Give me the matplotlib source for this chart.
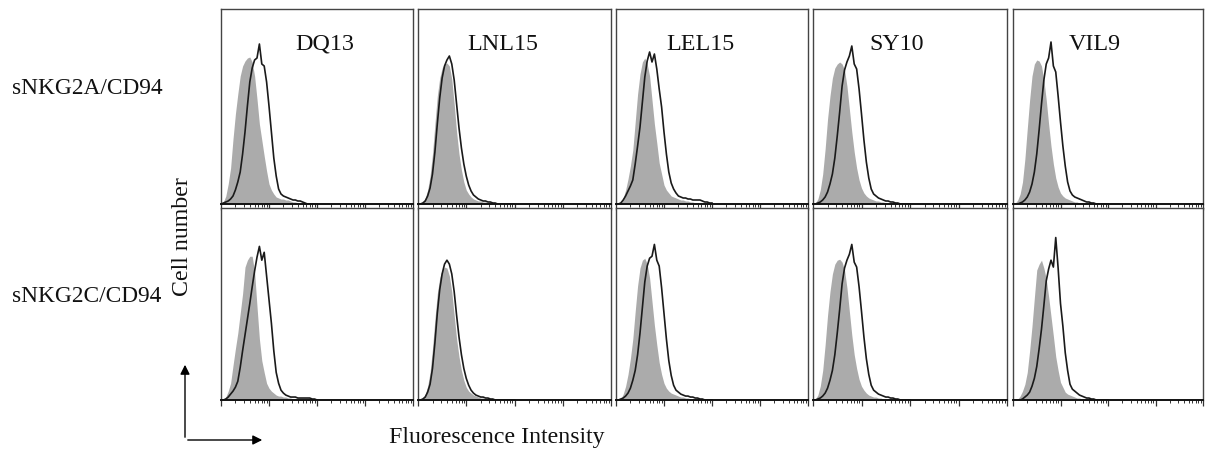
import numpy as np
import matplotlib
matplotlib.use("Agg")
import matplotlib.pyplot as plt
from matplotlib.ticker import LogLocator, NullFormatter, NullLocator

plt.rcParams['font.family'] = ['Liberation Serif', 'DejaVu Serif']

# peptides (columns) and receptors (rows)
peptides = ["DQ13", "LNL15", "LEL15", "SY10", "VIL9"]
receptors = ["sNKG2A/CD94", "sNKG2C/CD94"]

# histogram channels: log10 fluorescence from 0 to 2 in steps of 0.05
log_channels = np.arange(0, 2.001, 0.05)

# cell counts per channel (gray = control, line = tetramer)
gray_counts = {
    ("sNKG2A/CD94", "DQ13"): [0, 2, 8, 20, 36, 65, 90, 110, 128, 138, 143, 146, 147, 142, 128, 105, 80, 64, 48, 33, 20,
                              14, 10, 7, 6, 5, 5, 4, 4, 3, 2, 2, 1, 1, 0, 0, 0, 0, 0, 0, 0],
    ("sNKG2A/CD94", "LNL15"): [0, 0, 2, 6, 14, 28, 50, 80, 108, 126, 136, 140, 141, 138, 125, 100, 72, 50, 34, 22, 14,
                               10, 7, 5, 4, 3, 3, 2, 2, 1, 1, 0, 0, 0, 0, 0, 0, 0, 0, 0, 0],
    ("sNKG2A/CD94", "LEL15"): [0, 0, 1, 6, 14, 25, 38, 54, 82, 110, 130, 142, 146, 140, 128, 104, 80, 61, 41, 30, 19,
                               14, 11, 8, 7, 6, 5, 4, 4, 3, 3, 2, 2, 1, 1, 0, 0, 0, 0, 0, 0],
    ("sNKG2A/CD94", "SY10"): [0, 1, 5, 14, 30, 55, 85, 108, 126, 136, 140, 142, 140, 134, 118, 95, 72, 52, 36, 24, 16,
                              11, 8, 6, 5, 4, 3, 3, 2, 2, 1, 1, 0, 0, 0, 0, 0, 0, 0, 0, 0],
    ("sNKG2A/CD94", "VIL9"): [0, 1, 4, 10, 22, 45, 75, 104, 128, 140, 144, 143, 138, 124, 104, 80, 58, 40, 26, 17, 11,
                              8, 6, 5, 4, 3, 2, 2, 1, 1, 0, 0, 0, 0, 0, 0, 0, 0, 0, 0, 0],
    ("sNKG2C/CD94", "DQ13"): [0, 1, 3, 9, 17, 35, 52, 68, 88, 108, 135, 142, 146, 146, 130, 95, 62, 40, 28, 17, 12,
                              9, 7, 5, 4, 4, 3, 3, 2, 2, 1, 1, 0, 0, 0, 0, 0, 0, 0, 0, 0],
    ("sNKG2C/CD94", "LNL15"): [0, 0, 2, 6, 14, 28, 52, 82, 108, 124, 132, 135, 134, 126, 110, 86, 62, 44, 30, 20, 13,
                               9, 7, 5, 4, 3, 2, 2, 1, 1, 0, 0, 0, 0, 0, 0, 0, 0, 0, 0, 0],
    ("sNKG2C/CD94", "LEL15"): [0, 0, 1, 6, 14, 26, 42, 62, 90, 116, 134, 142, 144, 138, 124, 100, 76, 56, 38, 26, 17,
                               12, 9, 7, 6, 5, 4, 3, 3, 2, 2, 1, 1, 0, 0, 0, 0, 0, 0, 0, 0],
    ("sNKG2C/CD94", "SY10"): [0, 1, 5, 14, 30, 56, 86, 110, 128, 138, 142, 143, 140, 132, 114, 90, 66, 46, 32, 21, 14,
                              10, 7, 5, 4, 3, 3, 2, 2, 1, 1, 0, 0, 0, 0, 0, 0, 0, 0, 0, 0],
    ("sNKG2C/CD94", "VIL9"): [0, 0, 1, 4, 9, 16, 28, 50, 75, 104, 132, 138, 142, 134, 123, 105, 85, 65, 44, 30, 18,
                              13, 8, 6, 5, 4, 3, 2, 2, 1, 1, 0, 0, 0, 0, 0, 0, 0, 0, 0, 0],
}

line_counts = {
    ("sNKG2A/CD94", "DQ13"): [0, 1, 2, 3, 5, 8, 14, 22, 32, 50, 72, 98, 122, 136, 144, 146, 160, 140, 138, 122, 98,
                              72, 46, 28, 15, 10, 8, 7, 6, 5, 4, 4, 3, 3, 2, 1, 0, 0, 0, 0, 0],
    ("sNKG2A/CD94", "LNL15"): [0, 0, 1, 3, 8, 16, 30, 52, 80, 106, 126, 138, 144, 148, 140, 124, 100, 76, 56, 40, 28,
                               19, 13, 9, 7, 5, 4, 3, 3, 2, 2, 1, 1, 0, 0, 0, 0, 0, 0, 0, 0],
    ("sNKG2A/CD94", "LEL15"): [0, 0, 1, 4, 8, 13, 18, 24, 40, 58, 77, 102, 127, 143, 152, 142, 150, 135, 115, 97, 72,
                               50, 32, 21, 15, 11, 8, 7, 6, 6, 5, 5, 4, 4, 4, 4, 3, 2, 2, 1, 1],
    ("sNKG2A/CD94", "SY10"): [0, 0, 1, 2, 4, 7, 12, 20, 30, 46, 68, 92, 118, 134, 142, 148, 158, 140, 135, 115, 90,
                              64, 42, 26, 15, 10, 8, 6, 5, 4, 3, 3, 2, 2, 1, 1, 0, 0, 0, 0, 0],
    ("sNKG2A/CD94", "VIL9"): [0, 0, 0, 1, 2, 4, 7, 12, 20, 32, 50, 74, 100, 124, 140, 146, 162, 138, 132, 108, 82,
                              58, 38, 22, 13, 9, 7, 6, 5, 4, 3, 2, 2, 1, 1, 0, 0, 0, 0, 0, 0],
    ("sNKG2C/CD94", "DQ13"): [0, 0, 1, 3, 6, 9, 13, 19, 33, 50, 66, 82, 98, 115, 131, 145, 156, 142, 150, 126, 102,
                              78, 50, 28, 17, 10, 7, 5, 4, 3, 3, 3, 2, 2, 2, 2, 2, 2, 1, 1, 0],
    ("sNKG2C/CD94", "LNL15"): [0, 0, 1, 3, 8, 16, 32, 58, 88, 112, 128, 138, 142, 138, 128, 110, 86, 64, 46, 32, 22,
                               15, 10, 7, 5, 4, 3, 3, 2, 2, 1, 1, 0, 0, 0, 0, 0, 0, 0, 0, 0],
    ("sNKG2C/CD94", "LEL15"): [0, 0, 1, 2, 4, 7, 12, 20, 30, 46, 68, 94, 120, 136, 144, 146, 158, 142, 136, 114, 88,
                               62, 40, 25, 15, 10, 8, 6, 5, 4, 4, 3, 3, 2, 2, 1, 1, 0, 0, 0, 0],
    ("sNKG2C/CD94", "SY10"): [0, 0, 1, 2, 4, 7, 12, 20, 30, 46, 68, 92, 118, 134, 142, 148, 158, 140, 135, 115, 90,
                              64, 42, 26, 15, 10, 8, 6, 5, 4, 3, 3, 2, 2, 1, 1, 0, 0, 0, 0, 0],
    ("sNKG2C/CD94", "VIL9"): [0, 0, 0, 0, 1, 3, 5, 8, 14, 22, 34, 52, 72, 96, 121, 133, 142, 135, 165, 134, 98,
                              75, 48, 30, 16, 11, 9, 7, 5, 4, 3, 2, 2, 1, 1, 0, 0, 0, 0, 0, 0],
}

title_x = [0.54, 0.44, 0.44, 0.43, 0.43]

W, H = 1205, 455
fig = plt.figure(figsize=(W / 100, H / 100), dpi=100)

col_left = [221, 418, 616, 813, 1013]
col_right = [413, 611, 808, 1007, 1203]
row_top = [9, 208]
row_bottom = [204, 400]

x_vals = 10 ** log_channels

for r, rec in enumerate(receptors):
    for c, pep in enumerate(peptides):
        ax = fig.add_axes([col_left[c] / W, 1 - row_bottom[r] / H,
                           (col_right[c] - col_left[c]) / W, (row_bottom[r] - row_top[r]) / H])
        g = np.array(gray_counts[(rec, pep)])
        l = np.array(line_counts[(rec, pep)])
        ax.fill_between(x_vals, 0, g, color='#ababab', lw=0)
        ax.plot(x_vals, l, color='#1a1a1a', lw=1.2)
        ax.set_xscale('log')
        ax.set_xlim(1, 1e4)
        ax.set_ylim(0, 195)
        ax.yaxis.set_major_locator(NullLocator())
        ax.xaxis.set_major_locator(LogLocator(base=10, numticks=10))
        ax.xaxis.set_minor_locator(LogLocator(base=10, subs=np.arange(2, 10), numticks=20))
        ax.xaxis.set_major_formatter(NullFormatter())
        ax.xaxis.set_minor_formatter(NullFormatter())
        ax.tick_params(axis='x', which='major', direction='out', length=4, width=0.9, color='#333333')
        ax.tick_params(axis='x', which='minor', direction='out', length=2.2, width=0.7, color='#333333')
        for s in ax.spines.values():
            s.set_color('#444444')
            s.set_linewidth(1.0)
        ax.spines['bottom'].set_color('#111111')
        ax.spines['bottom'].set_linewidth(1.4)
        if r == 0:
            ax.text(title_x[c], 0.82, pep, transform=ax.transAxes, ha='center', va='center',
                    fontsize=17.3, color='#111111')

# row labels
fig.text(12 / W, 1 - 88 / H, receptors[0], ha='left', va='center', fontsize=16.8, color='#111111')
fig.text(12 / W, 1 - 296 / H, receptors[1], ha='left', va='center', fontsize=16.8, color='#111111')

# axis labels
fig.text(183 / W, 1 - 237 / H, "Cell number", rotation=90, ha='center', va='center', fontsize=17.2, color='#111111')
fig.text(497 / W, 1 - 438 / H, "Fluorescence Intensity", ha='center', va='center', fontsize=17.2, color='#111111')

# arrows
fig.patches.append(matplotlib.patches.FancyArrowPatch((185 / W, 1 - 440 / H), (185 / W, 1 - 362 / H),
                   transform=fig.transFigure, arrowstyle='-|>', mutation_scale=14, lw=1.0, color='black'))
fig.patches.append(matplotlib.patches.FancyArrowPatch((185 / W, 1 - 440 / H), (265 / W, 1 - 440 / H),
                   transform=fig.transFigure, arrowstyle='-|>', mutation_scale=14, lw=1.0, color='black'))

fig.savefig("out.png", dpi=100)
